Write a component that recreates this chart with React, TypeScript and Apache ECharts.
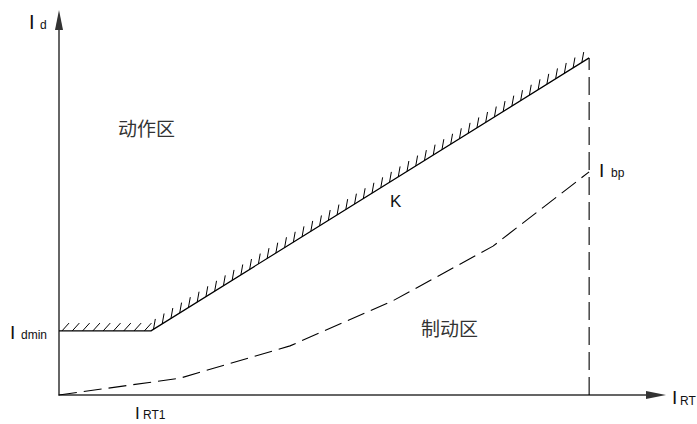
import React, { useEffect, useRef } from "react";
import * as echarts from "echarts";

// Axes are unitless (0..100) — schematic relay characteristic
const X_MAX = 100;
const Y_MAX = 100;

// Operating characteristic (protection line): Idmin flat, then slope K up to Ibp column
const protectionX = [0, 15.4, 88.8];
const protectionY = [17.1, 17.1, 89.9];

// Restraint (load) curve, dashed
const restraintX = [0, 20.3, 38.7, 55.9, 72.7, 88.8];
const restraintY = [0, 4.5, 13.1, 25.1, 39.7, 59.5];

// Vertical dashed limit line at the breakpoint current
const limitX = [88.8, 88.8];
const limitY = [0, 89.9];

const FONT = "'Liberation Sans', Arial, sans-serif";
const CJK = "'Noto Sans CJK SC', sans-serif";

export default function App() {
  const ref = useRef<HTMLDivElement>(null);

  useEffect(() => {
    document.body.style.margin = "0";
    const chart = echarts.init(ref.current!, null, { renderer: "svg" });

    const pts = (xs: number[], ys: number[]) => xs.map((x, i) => [x, ys[i]]);
    const hatchSegments = protectionX.slice(0, -1).map((x, i) => [
      x,
      protectionY[i],
      protectionX[i + 1],
      protectionY[i + 1],
    ]);

    const axisLine = {
      show: true,
      onZero: false,
      symbol: ["none", "triangle"],
      symbolSize: [8, 20],
      lineStyle: { color: "#333", width: 1.5 },
    };

    const txt = (
      x: number,
      y: number,
      text: string,
      size: number,
      family = FONT,
      fill = "#111"
    ) => ({
      type: "text",
      x,
      y,
      style: {
        text,
        fontSize: size,
        fontFamily: family,
        fill,
        textAlign: "left",
        textVerticalAlign: "middle",
        verticalAlign: "middle",
      },
    });

    chart.setOption({
      animation: false,
      backgroundColor: "#fff",
      grid: { left: 59, right: 41, top: 20, bottom: 29 },
      xAxis: {
        type: "value",
        min: 0,
        max: X_MAX,
        axisLine,
        axisTick: { show: false },
        axisLabel: { show: false },
        splitLine: { show: false },
      },
      yAxis: {
        type: "value",
        min: 0,
        max: Y_MAX,
        axisLine,
        axisTick: { show: false },
        axisLabel: { show: false },
        splitLine: { show: false },
      },
      series: [
        {
          type: "line",
          data: pts(protectionX, protectionY),
          symbol: "none",
          lineStyle: { color: "#000", width: 1.2 },
          z: 3,
        },
        {
          type: "line",
          data: pts(restraintX, restraintY),
          symbol: "none",
          lineStyle: { color: "#000", width: 1.1, type: [18, 7] },
        },
        {
          type: "line",
          data: pts(limitX, limitY),
          symbol: "none",
          lineStyle: { color: "#000", width: 1.1, type: [18, 7] },
        },
        {
          type: "custom",
          data: hatchSegments,
          dimensions: ["x1", "y1", "x2", "y2"],
          encode: { x: [0, 2], y: [1, 3] },
          renderItem: (params: any, api: any) => {
            const p1 = api.coord([api.value(0), api.value(1)]);
            const p2 = api.coord([api.value(2), api.value(3)]);
            const dx = p2[0] - p1[0];
            const dy = p2[1] - p1[1];
            const len = Math.sqrt(dx * dx + dy * dy);
            const ux = dx / len;
            const uy = dy / len;
            const th = (48 * Math.PI) / 180;
            const tx = ux * Math.cos(th) + uy * Math.sin(th);
            const ty = -ux * Math.sin(th) + uy * Math.cos(th);
            const tickLen = 10.5;
            const step = 10.3;
            const children: any[] = [];
            for (let s = 3; s <= len - 1; s += step) {
              const bx = p1[0] + ux * s;
              const by = p1[1] + uy * s;
              children.push({
                type: "line",
                shape: {
                  x1: bx,
                  y1: by,
                  x2: bx + tx * tickLen,
                  y2: by + ty * tickLen,
                },
                style: { stroke: "#000", lineWidth: 1 },
              });
            }
            return { type: "group", children };
          },
          z: 2,
        },
      ],
      graphic: [
        txt(29, 21.5, "I", 20),
        txt(40, 25, "d", 12),
        txt(10, 332, "I", 19),
        txt(21, 335, "dmin", 12),
        txt(599, 170, "I", 19),
        txt(611, 173, "bp", 12),
        txt(672, 397.5, "I", 19),
        txt(680, 401, "RT", 12),
        txt(135, 413, "I", 17),
        txt(143, 415, "RT1", 12),
        txt(390, 201, "K", 17),
        txt(118, 127, "动作区", 19, CJK, "#333"),
        txt(421, 327, "制动区", 19, CJK, "#333"),
      ],
    });

    return () => chart.dispose();
  }, []);

  return <div ref={ref} style={{ width: 697, height: 424 }} />;
}
